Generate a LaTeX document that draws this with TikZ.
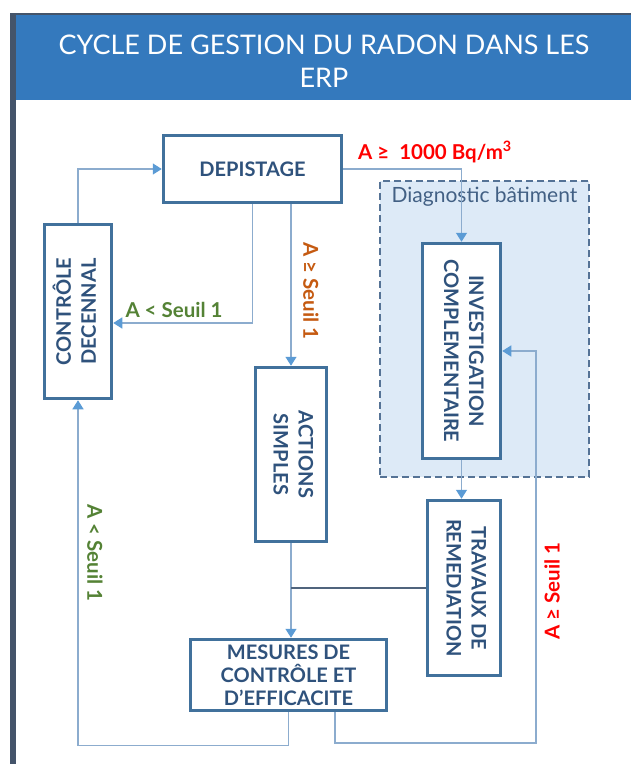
\documentclass[tikz,border=0pt]{standalone}
\usepackage{fontspec}
\setmainfont{Lato}
\usepackage{tikz}
\usetikzlibrary{arrows.meta, positioning}

\definecolor{boxline}{RGB}{65,113,156}
\definecolor{boxtext}{RGB}{47,82,124}
\definecolor{linkcol}{RGB}{140,172,206}
\definecolor{linkdark}{RGB}{80,100,125}
\definecolor{tipcol}{RGB}{91,155,213}
\definecolor{titleblue}{RGB}{52,121,189}
\definecolor{framecol}{RGB}{68,84,106}
\definecolor{diagfill}{RGB}{221,234,247}
\definecolor{diagline}{RGB}{85,115,150}
\definecolor{diagtext}{RGB}{66,96,132}
\definecolor{okgreen}{RGB}{84,130,53}
\definecolor{warnorange}{RGB}{197,90,17}
\definecolor{alertred}{RGB}{255,0,0}

% vertical two-line text inside a box
\newcommand{\vtext}[2]{\rotatebox{#1}{\begin{tabular}{@{}c@{}}#2\end{tabular}}}

\begin{document}
\begin{tikzpicture}[
    x=1pt, y=-1pt,
    box/.style={rectangle, draw=boxline, line width=3.5pt, fill=white, inner sep=0pt, align=center, text=boxtext, font=\fontsize{20}{25}\selectfont\bfseries},
    diagbox/.style={rectangle, draw=diagline, dash pattern=on 7pt off 4pt, line width=1.4pt, fill=diagfill, inner sep=0pt},
    arrow/.style={draw=linkcol, line width=1.3pt, -{Triangle[length=9pt, width=11pt, color=tipcol]}},
    link/.style={draw=linkdark, line width=1.1pt},
    cond/.style={font=\fontsize{20.5}{24}\selectfont\bfseries, inner sep=0pt}
]
\useasboundingbox (0,0) rectangle (630,764);

% frame and title
\fill[titleblue] (14,15) rectangle (632,100);
\draw[framecol, line width=2pt] (13,14) -- (632,14);
\draw[framecol, line width=6pt] (12.5,766) -- (12.5,13);
\node[font=\fontsize{27}{33}\selectfont, text=white, align=center] (title) at (324,61) {CYCLE DE GESTION DU RADON DANS LES\\ERP};

% building diagnostic area
\node[diagbox, minimum width=209pt, minimum height=296pt] (diag) at (484.5,329) {};
\node[below=7pt of diag.north, font=\fontsize{21}{24}\selectfont, text=diagtext, inner sep=0pt] (diaglabel) {Diagnostic bâtiment};

% steps
\node[box, minimum width=178pt, minimum height=67pt] (depist) at (252.5,169) {DEPISTAGE};
\node[box, minimum width=67pt, minimum height=174pt] (controle) at (78,311.5) {\vtext{90}{CONTRÔLE\\DECENNAL}};
\node[box, minimum width=71pt, minimum height=174pt] (actions) at (291,454.5) {\vtext{-90}{ACTIONS\\SIMPLES}};
\node[box, minimum width=78pt, minimum height=215pt] (invest) at (461.5,351) {\vtext{-90}{INVESTIGATION\\COMPLEMENTAIRE}};
\node[box, minimum width=73pt, minimum height=175pt] (travaux) at (464,588) {\vtext{-90}{TRAVAUX DE\\REMEDIATION}};
\node[box, minimum width=196pt, minimum height=71pt, font=\fontsize{20}{23}\selectfont\bfseries] (mesures) at (288.5,675) {MESURES DE\\CONTRÔLE ET\\D’EFFICACITE};

% conditions
\node[cond, text=okgreen] (lowtop) at (174,310) {A < Seuil 1};
\node[cond, text=warnorange, rotate=-90] (highmid) at (311,291) {A ≥ Seuil 1};
\node[cond, text=alertred] (radon) at (435,152) {A ≥\ \ 1000 Bq/m\textsuperscript{3}};
\node[cond, text=okgreen, rotate=-90] (lowbot) at (95,553) {A < Seuil 1};
\node[cond, text=alertred, rotate=90] (highright) at (552,591) {A ≥ Seuil 1};

\coordinate (rloop) at (536,743);

% links
\draw[arrow] (controle.north) |- (depist.west);
\draw[arrow] (depist.south) |- ([yshift=-11.5pt]controle.east);
\draw[arrow] (depist.south -| actions.north) -- (actions.north);
\draw[arrow] (depist.east) -| (invest.north);
\draw[arrow] (invest.south) -- (invest.south |- travaux.north);
\draw[arrow] (actions.south) -- (actions.south |- mesures.north);
\draw[link] (travaux.west) -- (travaux.west -| actions.south);
\draw[arrow] (mesures.south) -- ++(0,33) -| (controle.south);
\draw[arrow] ([xshift=46.5pt]mesures.south) |- (rloop) |- (invest.east);

\end{tikzpicture}
\end{document}
